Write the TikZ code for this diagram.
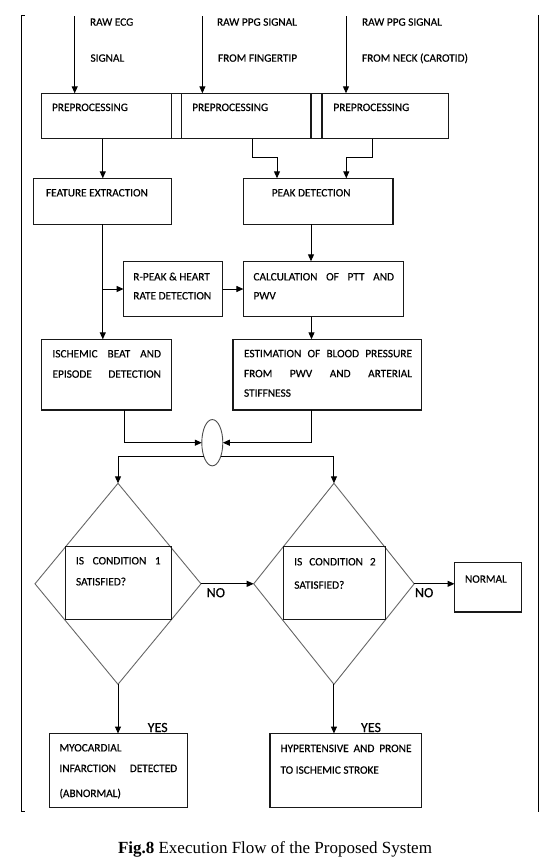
\documentclass[tikz,border=0pt]{standalone}
\usepackage{fontspec}
\setmainfont{Carlito}
\newfontfamily\lblfont{Carlito}[FakeBold=0.35]
\newfontfamily\capfont{Liberation Serif}
\usetikzlibrary{shapes.geometric,arrows.meta}
\newcommand{\jl}[2]{\makebox[#1pt][s]{#2}}
\newcommand{\mybox}[6]{\node[#1,minimum width={(#5-#3)*1pt},minimum height={(#6-#4)*1pt}] (#2) at ({(#3+#5)/2},{(#4+#6)/2}) {};}
\begin{document}
\begin{tikzpicture}[x=1pt,y=-1pt,
  bx/.style={draw=black!90, line width=1.1pt, rectangle, inner sep=0pt, outer sep=0pt},
  dm/.style={draw=black!60, line width=0.9pt, diamond, inner sep=0pt, outer sep=0pt},
  el/.style={draw=black!70, line width=0.9pt, ellipse, inner sep=0pt, outer sep=0pt},
  lbl/.style={anchor=base west, inner sep=0pt, outer sep=0pt, font=\lblfont\fontsize{11.3}{13}\selectfont},
  big/.style={anchor=base west, inner sep=0pt, outer sep=0pt, font=\lblfont\fontsize{14}{16}\selectfont},
  arr/.style={draw=black, line width=1pt, -{Triangle[length=7pt,width=6pt]}},
  ln/.style={draw=black, line width=1pt}]
\useasboundingbox (0,0) rectangle (543,868);
% frame
\draw[ln] (24.5,15) -- (21.5,15) -- (21.5,811.7) -- (25,811.7);
\draw[ln] (538.4,15) -- (538.4,812);
% boxes
\mybox{bx}{pp1}{41.5}{93.3}{171.7}{138.7}
\mybox{bx}{gp1}{171.7}{93.3}{181.5}{138.7}
\mybox{bx}{pp2}{181.5}{93.3}{311}{138.7}
\mybox{bx}{gp2}{311}{93.3}{322}{138.7}
\mybox{bx}{pp3}{322}{93.3}{448.8}{138.7}
\mybox{bx}{fe}{33.9}{178.3}{171.7}{224.3}
\mybox{bx}{pd}{243.4}{178.3}{393}{224.3}
\mybox{bx}{rp}{123.6}{261.3}{222.6}{316.7}
\mybox{bx}{calc}{243.4}{261.3}{403.4}{316.7}
\mybox{bx}{isc}{41.3}{339.3}{171.7}{410}
\mybox{bx}{est}{233}{339.3}{421.7}{410}
\node[el, minimum width=21pt, minimum height=46.3pt] (elp) at (212.3,442.7) {};
\mybox{dm}{d1}{35}{483.3}{201}{684.3}
\mybox{dm}{d2}{253.7}{483.3}{414.2}{684.3}
\mybox{bx}{in1}{65.9}{546.7}{171.7}{619.2}
\mybox{bx}{in2}{283.3}{546.7}{385.4}{619.2}
\mybox{bx}{nrm}{454.5}{562.7}{521.6}{612}
\mybox{bx}{myo}{49.2}{733.5}{187.3}{807.3}
\mybox{bx}{hyp}{270}{733.5}{421.7}{807.3}
% input arrows
\coordinate (a1) at (74.7,16);
\coordinate (a2) at (202.4,16);
\coordinate (a3) at (346,16);
\draw[arr] (a1) -- (a1 |- pp1.north);
\draw[arr] (a2) -- (a2 |- pp2.north);
\draw[arr] (a3) -- (a3 |- pp3.north);
% connectors
\coordinate (b2) at (277,157.3);
\coordinate (b3) at (346.3,157.3);
\draw[arr] (pp1.south -| fe.north) -- (fe.north);
\draw[arr] ([xshift=6.2pt]pp2.south) |- (b2) -- (b2 |- pd.north);
\draw[arr] ([xshift=-12.8pt]pp3.south) |- (b3) -- (b3 |- pd.north);
\draw[arr] ([xshift=-7.2pt]pd.south) -- ([xshift=-7.2pt]pd.south |- calc.north);
\draw[arr] ([xshift=-11.9pt]calc.south) -- ([xshift=-11.9pt]calc.south |- est.north);
\draw[arr] (fe.south) -- (fe.south |- isc.north);
\draw[arr] (fe.south |- rp.west) -- (rp.west);
\draw[arr] (rp.east) -- (calc.west);
\draw[arr] ([xshift=18pt]isc.south) |- (elp.west);
\draw[arr] ([xshift=-15.4pt]est.south) |- (elp.east);
\draw[arr] (elp.-121) -| (d1.north);
\draw[arr] (elp.-59) -| (d2.north);
\draw[arr] (d1.east) -- (d2.west);
\draw[arr] (d2.east) -- (d2.east -| nrm.west);
\draw[arr] (d1.south) -- (d1.south |- myo.north);
\draw[arr] (d2.south) -- (d2.south |- hyp.north);
% texts
\node[lbl] (t1) at (90,25.7) {RAW ECG};
\node[lbl] (t2) at (90.5,61.7) {SIGNAL};
\node[lbl] (t3) at (217,25.7) {RAW PPG SIGNAL};
\node[lbl] (t4) at (218,61.7) {FROM FINGERTIP};
\node[lbl] (t5) at (362,25.7) {RAW PPG SIGNAL};
\node[lbl] (t6) at (362,61.7) {FROM NECK (CAROTID)};
\node[lbl] (t7) at (52,111) {PREPROCESSING};
\node[lbl] (t8) at (192.2,111) {PREPROCESSING};
\node[lbl] (t9) at (333.4,111) {PREPROCESSING};
\node[lbl] (t10) at (46,196.4) {FEATURE EXTRACTION};
\node[lbl] (t11) at (271.8,196.4) {PEAK DETECTION};
\node[lbl] (t12) at (133.3,280.4) {R-PEAK \& HEART};
\node[lbl] (t13) at (133.3,299.4) {RATE DETECTION};
\node[lbl] (t14) at (253.5,280.4) {\jl{140.5}{CALCULATION OF PTT AND}};
\node[lbl] (t15) at (253.5,299.4) {PWV};
\node[lbl] (t16) at (52.5,357.4) {\jl{108.5}{ISCHEMIC BEAT AND}};
\node[lbl] (t17) at (52.5,377.7) {\jl{108.5}{EPISODE DETECTION}};
\node[lbl] (t18) at (244,357.2) {\jl{168}{ESTIMATION OF BLOOD PRESSURE}};
\node[lbl] (t19) at (244,377.2) {\jl{168}{FROM PWV AND ARTERIAL}};
\node[lbl] (t20) at (244,396.7) {STIFFNESS};
\node[lbl] (t21) at (76,564.4) {\jl{84.7}{IS CONDITION 1}};
\node[lbl] (t22) at (76,585.4) {SATISFIED?};
\node[lbl] (t23) at (294.3,565.4) {\jl{81.4}{IS CONDITION 2}};
\node[lbl] (t24) at (294.3,588.7) {SATISFIED?};
\node[lbl] (t25) at (465,582.7) {NORMAL};
\node[big] (no1) at (206.7,597.2) {NO};
\node[big] (no2) at (415,597.2) {NO};
\node[big] (yes1) at (147.7,732) {YES};
\node[big] (yes2) at (361,732) {YES};
\node[lbl] (t26) at (59.5,751.4) {MYOCARDIAL};
\node[lbl] (t27) at (59.5,772) {\jl{117.7}{INFARCTION DETECTED}};
\node[lbl] (t28) at (59.5,797) {(ABNORMAL)};
\node[lbl] (t29) at (280.5,752) {\jl{131}{HYPERTENSIVE AND PRONE}};
\node[lbl] (t30) at (280.5,773.7) {TO ISCHEMIC STROKE};
\node[anchor=base, inner sep=0pt, font=\capfont\fontsize{17}{20}\selectfont] (cap) at (275,853) {\textbf{Fig.8} Execution Flow of the Proposed System};
\end{tikzpicture}
\end{document}
